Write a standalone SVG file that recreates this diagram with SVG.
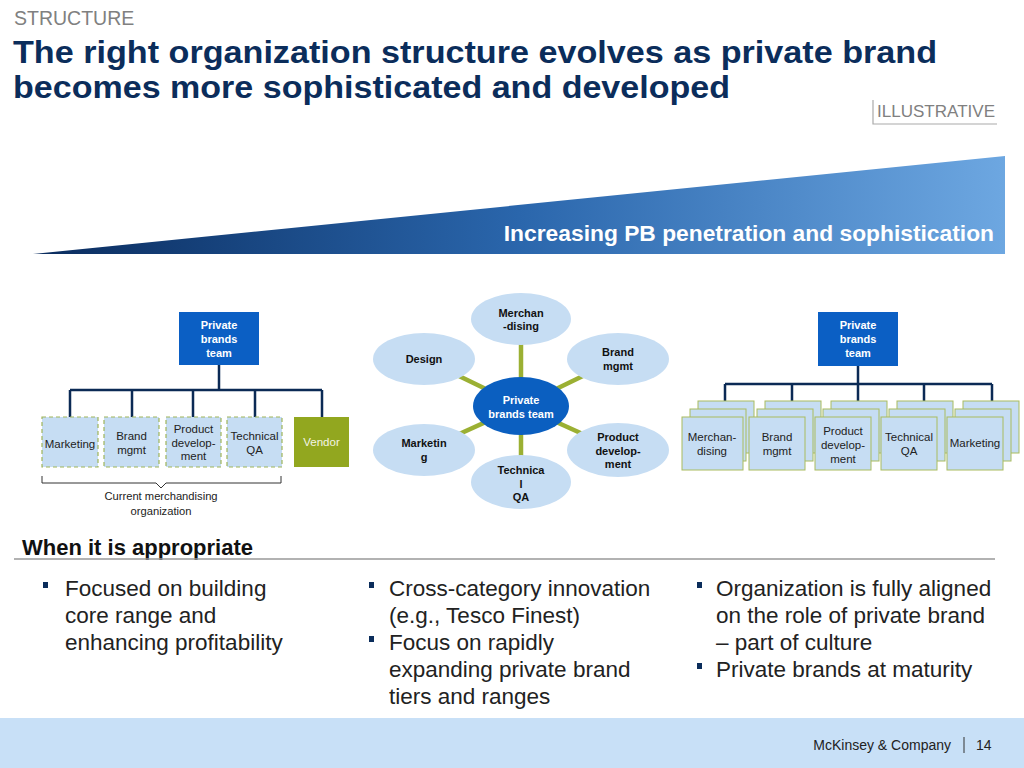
<svg xmlns="http://www.w3.org/2000/svg" width="1024" height="768" viewBox="0 0 1024 768">
<defs>
<linearGradient id="wedge" x1="0" y1="0" x2="1" y2="0">
<stop offset="0" stop-color="#0a2c5e"/>
<stop offset="0.5" stop-color="#2a66ac"/>
<stop offset="1" stop-color="#6da7e1"/>
</linearGradient>
<style>
text{font-family:"Liberation Sans",Arial,sans-serif}
.grey{fill:#808080}
.title{fill:#0b2d5b;font-weight:bold;font-size:32px}
.hdr{fill:#0b5fc4}
.hdrt{fill:#fff;font-weight:bold;font-size:11px;text-anchor:middle}
.box{fill:#c6ddf3;stroke:#9fb55a;stroke-width:1.2;stroke-dasharray:4 3}
.sbox{fill:#c6ddf3;stroke:#a9bc5e;stroke-width:1}
.bt{fill:#222;font-size:11.5px;text-anchor:middle}
.ell{fill:#c6ddf3}
.et{fill:#111;font-weight:bold;font-size:11px;text-anchor:middle}
.org{stroke:#0b2a55;stroke-width:2.5;fill:none}
.spoke{stroke:#9bb033;stroke-width:4.5}
.bul{fill:#222;font-size:22.5px}
.sq{fill:#0b2d5b}
</style>
</defs>
<rect width="1024" height="768" fill="#fff"/>
<g id="header">
<text x="14" y="25" class="grey" font-size="19.5">STRUCTURE</text>
<text x="13" y="63" class="title" textLength="924" lengthAdjust="spacingAndGlyphs">The right organization structure evolves as private brand</text>
<text x="13" y="98" class="title" textLength="717" lengthAdjust="spacingAndGlyphs">becomes more sophisticated and developed</text>
<path d="M873 100 V124 H997" stroke="#aaa" stroke-width="1.2" fill="none"/>
<text x="877" y="117" class="grey" font-size="17" textLength="118" lengthAdjust="spacingAndGlyphs">ILLUSTRATIVE</text>
</g>
<g id="wedge-arrow">
<polygon points="33,254 1005,156 1005,254" fill="url(#wedge)"/>
<text x="994" y="241" fill="#fff" font-weight="bold" font-size="22.8" text-anchor="end">Increasing PB penetration and sophistication</text>
</g>
<g id="connectors">
<path class="org" d="M219 365 V390 M70 390 H322 M70 390 V417 M132 390 V417 M193 390 V417 M255 390 V417 M322 390 V417"/>
<path class="org" d="M858 366 V384 M725 384 H992 M725 384 V401 M792 384 V401 M858 384 V401 M924 384 V401 M992 384 V401"/>
<line class="spoke" x1="521" y1="406" x2="521" y2="319"/>
<line class="spoke" x1="521" y1="406" x2="424" y2="359"/>
<line class="spoke" x1="521" y1="406" x2="618" y2="359"/>
<line class="spoke" x1="521" y1="406" x2="424" y2="450"/>
<line class="spoke" x1="521" y1="406" x2="618" y2="450"/>
<line class="spoke" x1="521" y1="406" x2="521" y2="483"/>
<path d="M42 476 V483 H156 L161 488 L166 483 H281 V476" stroke="#333" stroke-width="1" fill="none"/>
</g>
<g id="left-org">
<g id="l-head"><rect class="hdr" x="179" y="312" width="80" height="53"/>
<text class="hdrt" x="219" y="329">Private</text><text class="hdrt" x="219" y="343">brands</text><text class="hdrt" x="219" y="357">team</text></g>
<g id="l-marketing"><rect class="box" x="42" y="417" width="56" height="50"/><text class="bt" x="70" y="448">Marketing</text></g>
<g id="l-brand"><rect class="box" x="104" y="417" width="55" height="50"/><text class="bt" x="131.5" y="440">Brand</text><text class="bt" x="131.5" y="454">mgmt</text></g>
<g id="l-product"><rect class="box" x="166" y="417" width="55" height="50"/><text class="bt" x="193.5" y="433">Product</text><text class="bt" x="193.5" y="447">develop-</text><text class="bt" x="193.5" y="460">ment</text></g>
<g id="l-tech"><rect class="box" x="227" y="417" width="55" height="50"/><text class="bt" x="254.5" y="440">Technical</text><text class="bt" x="254.5" y="454">QA</text></g>
<g id="l-vendor"><rect x="294" y="417" width="55" height="50" fill="#92a71f"/><text class="bt" x="321.5" y="446" style="fill:#f4f4e6">Vendor</text></g>
<text x="161" y="500" font-size="11.2" fill="#222" text-anchor="middle">Current merchandising</text>
<text x="161" y="515" font-size="11.2" fill="#222" text-anchor="middle">organization</text>
</g>
<g id="center-org">
<g id="c-merch"><ellipse class="ell" cx="521" cy="319" rx="50" ry="26"/><text class="et" x="521" y="317">Merchan</text><text class="et" x="521" y="330">-dising</text></g>
<g id="c-design"><ellipse class="ell" cx="424" cy="359" rx="51" ry="26"/><text class="et" x="424" y="363">Design</text></g>
<g id="c-brand"><ellipse class="ell" cx="618" cy="359" rx="51" ry="26"/><text class="et" x="618" y="356">Brand</text><text class="et" x="618" y="370">mgmt</text></g>
<g id="c-marketing"><ellipse class="ell" cx="424" cy="450" rx="51" ry="26"/><text class="et" x="424" y="447">Marketin</text><text class="et" x="424" y="461">g</text></g>
<g id="c-product"><ellipse class="ell" cx="618" cy="450" rx="51" ry="27"/><text class="et" x="618" y="441">Product</text><text class="et" x="618" y="455">develop-</text><text class="et" x="618" y="468">ment</text></g>
<g id="c-tech"><ellipse class="ell" cx="521" cy="482" rx="50" ry="27"/><text class="et" x="521" y="474">Technica</text><text class="et" x="521" y="488">l</text><text class="et" x="521" y="501">QA</text></g>
<g id="c-center"><ellipse cx="521" cy="406" rx="48" ry="29" fill="#0b5fc0"/><text class="hdrt" x="521" y="404">Private</text><text class="hdrt" x="521" y="418">brands team</text></g>
</g>
<g id="right-org">
<g id="r-head"><rect class="hdr" x="818" y="312" width="80" height="54"/>
<text class="hdrt" x="858" y="329">Private</text><text class="hdrt" x="858" y="343">brands</text><text class="hdrt" x="858" y="357">team</text></g>
<g id="r-merch"><rect class="sbox" x="698" y="401" width="56" height="52"/><rect class="sbox" x="690" y="409" width="56" height="52"/><rect class="sbox" x="682" y="417" width="61" height="53"/><text class="bt" x="712" y="441">Merchan-</text><text class="bt" x="712" y="455">dising</text></g>
<g id="r-brand"><rect class="sbox" x="765" y="401" width="56" height="52"/><rect class="sbox" x="757" y="409" width="56" height="52"/><rect class="sbox" x="749" y="417" width="56" height="53"/><text class="bt" x="777" y="441">Brand</text><text class="bt" x="777" y="455">mgmt</text></g>
<g id="r-product"><rect class="sbox" x="831" y="401" width="56" height="52"/><rect class="sbox" x="823" y="409" width="56" height="52"/><rect class="sbox" x="815" y="417" width="56" height="53"/><text class="bt" x="843" y="435">Product</text><text class="bt" x="843" y="449">develop-</text><text class="bt" x="843" y="463">ment</text></g>
<g id="r-tech"><rect class="sbox" x="897" y="401" width="56" height="52"/><rect class="sbox" x="889" y="409" width="56" height="52"/><rect class="sbox" x="881" y="417" width="56" height="53"/><text class="bt" x="909" y="441">Technical</text><text class="bt" x="909" y="455">QA</text></g>
<g id="r-marketing"><rect class="sbox" x="963" y="401" width="56" height="52"/><rect class="sbox" x="955" y="409" width="56" height="52"/><rect class="sbox" x="947" y="417" width="56" height="53"/><text class="bt" x="975" y="447">Marketing</text></g>
</g>
<g id="when">
<text x="22" y="555" font-size="22" font-weight="bold" fill="#111">When it is appropriate</text>
<line x1="14" y1="559" x2="995" y2="559" stroke="#999" stroke-width="1.5"/>
<rect class="sq" x="43" y="582" width="5" height="6"/>
<text class="bul" x="65" y="596">Focused on building</text>
<text class="bul" x="65" y="623">core range and</text>
<text class="bul" x="65" y="650">enhancing profitability</text>
<rect class="sq" x="369" y="582" width="5" height="6"/>
<text class="bul" x="389" y="596">Cross-category innovation</text>
<text class="bul" x="389" y="623">(e.g., Tesco Finest)</text>
<rect class="sq" x="369" y="636" width="5" height="6"/>
<text class="bul" x="389" y="650">Focus on rapidly</text>
<text class="bul" x="389" y="677">expanding private brand</text>
<text class="bul" x="389" y="704">tiers and ranges</text>
<rect class="sq" x="697" y="582" width="5" height="6"/>
<text class="bul" x="716" y="596">Organization is fully aligned</text>
<text class="bul" x="716" y="623">on the role of private brand</text>
<text class="bul" x="716" y="650">– part of culture</text>
<rect class="sq" x="697" y="663" width="5" height="6"/>
<text class="bul" x="716" y="677">Private brands at maturity</text>
</g>
<g id="footer">
<rect x="0" y="718" width="1024" height="50" fill="#c8e0f7"/>
<text x="951" y="750" font-size="14" fill="#222" text-anchor="end">McKinsey &amp; Company</text>
<line x1="964" y1="737" x2="964" y2="753" stroke="#333" stroke-width="1"/>
<text x="976" y="750" font-size="14" fill="#222">14</text>
</g>
</svg>
